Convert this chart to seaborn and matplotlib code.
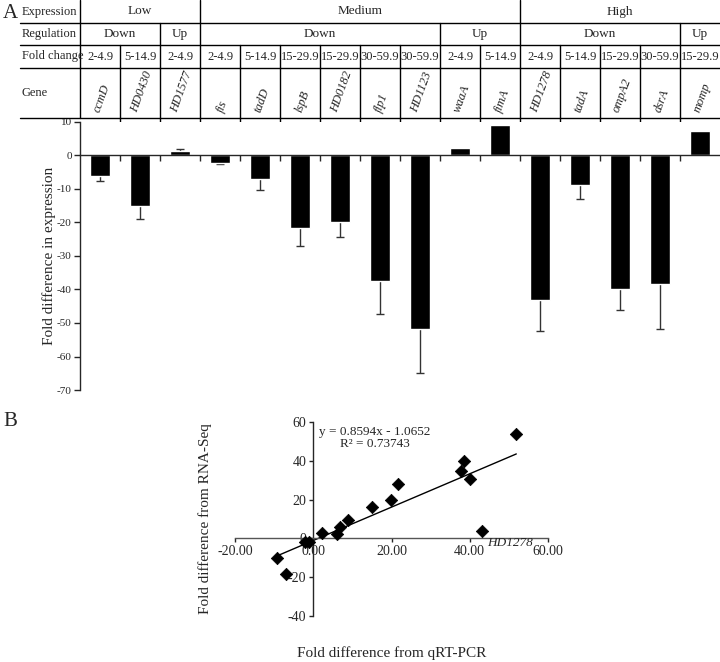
import numpy as np
import matplotlib
matplotlib.use("Agg")
import matplotlib.pyplot as plt
import seaborn as sns

# ---- Panel A data ----
genes = ["ccmD", "HD0430", "HD1577", "fis", "tadD", "lspB", "HD0182", "flp1",
         "HD1123", "waaA", "fimA", "HD1278", "tadA", "ompA2", "dsrA", "momp"]
fold_diff = [-6.0, -15.0, 1.2, -2.2, -7.0, -21.5, -19.8, -37.6,
             -51.7, 2.2, 9.2, -43.0, -8.7, -39.8, -38.5, 7.2]
fold_err = [1.7, 4.0, 0.8, 0.3, 3.2, 5.5, 4.5, 9.7,
            13.2, 0.0, 0.0, 9.3, 4.2, 6.2, 13.2, 0.0]
fold_change = ["2-4.9", "5-14.9", "2-4.9", "2-4.9", "5-14.9", "15-29.9", "15-29.9", "30-59.9",
               "30-59.9", "2-4.9", "5-14.9", "2-4.9", "5-14.9", "15-29.9", "30-59.9", "15-29.9"]
expression_groups = [("Low", 0, 2), ("Medium", 3, 10), ("High", 11, 15)]
regulation_groups = [("Down", 0, 1), ("Up", 2, 2), ("Down", 3, 8), ("Up", 9, 10),
                     ("Down", 11, 14), ("Up", 15, 15)]
row_names = ["Expression", "Regulation", "Fold change", "Gene"]
bar_yticks = [10, 0, -10, -20, -30, -40, -50, -60, -70]

# ---- Panel B data ----
qpcr = [6.0, 14.9, -1.0, 2.2, 6.9, 21.7, 19.8, 37.7,
        51.9, -2.0, -9.2, 43.2, 9.0, 40.0, 38.5, -6.9]
rnaseq = [2.1, 16.1, -1.9, 2.7, 5.8, 28.0, 20.0, 34.9,
          53.7, -1.9, -9.9, 3.8, 9.6, 30.6, 40.0, -18.1]
slope, intercept, r2 = 0.8594, -1.0652, 0.73743
scatter_xticks = [-20, 0, 20, 40, 60]
scatter_yticks = [-40, -20, 0, 20, 40, 60]

sns.set_style("ticks")
plt.rcParams["font.family"] = ["Liberation Serif", "DejaVu Serif"]
plt.rcParams["axes.unicode_minus"] = False
plt.rcParams["axes.linewidth"] = 1.0

W, H = 720, 662
fig = plt.figure(figsize=(W / 100, H / 100), dpi=100)

def px_axes(x0, y0, x1, y1):
    return fig.add_axes([x0 / W, 1 - y1 / H, (x1 - x0) / W, (y1 - y0) / H])

# ---- bar chart ----
ax = px_axes(80, 122, 720, 390)
sns.barplot(x=genes, y=fold_diff, color="black", width=0.5, saturation=1,
            errorbar=None, ax=ax, zorder=2)
pos = np.arange(len(genes))
vals = np.array(fold_diff)
errs = np.array(fold_err)
tips = vals + np.sign(vals) * errs
show = errs > 0
# one-sided error bars: stem from the bar end outwards, cap only at the tip
ax.vlines(pos[show], vals[show], tips[show], color="#333333", lw=1, zorder=1)
ax.plot(pos[show], tips[show], ls="none", marker="_", ms=6, mew=1,
        color="#333333", zorder=1)
ax.set_xlim(-0.5, len(genes) - 0.5)
ax.set_ylim(-70, 10)
ax.set_yticks(bar_yticks)
ax.set_yticklabels([str(t) for t in bar_yticks], fontsize=8)
ax.spines["bottom"].set_position(("data", 0))
ax.spines["top"].set_visible(False)
ax.spines["right"].set_visible(False)
ax.set_xticks(pos[:-1] + 0.5)
ax.set_xticklabels([])
ax.tick_params(axis="x", direction="out", length=4, width=1)
ax.tick_params(axis="y", direction="out", length=4, width=1, pad=2)
ax.set_xlabel("")
ax.set_ylabel("Fold difference in expression", fontsize=11)
ax.yaxis.set_label_coords(-0.038, 0.5)

# ---- table above bars ----
tab = px_axes(0, 0, 720, 122)
tab.set_xlim(-2.5, len(genes) - 0.5)
tab.set_ylim(122, 0)
tab.axis("off")
row_y = [0, 23, 45, 68, 118]
for y in row_y[1:]:
    tab.plot([-2.0, len(genes) - 0.5], [y, y], color="black", lw=1)
tab.plot([-0.5, -0.5], [0, 118], color="black", lw=1)
for name, y0, y1 in zip(row_names, row_y[:-1], row_y[1:]):
    tab.text(-1.95, (y0 + y1) / 2, name, ha="left", va="center", fontsize=9)
for label, a, b in expression_groups:
    tab.text((a + b) / 2, 11.5, label, ha="center", va="center", fontsize=9.5)
    if b < len(genes) - 1:
        tab.plot([b + 0.5, b + 0.5], [0, 23], color="black", lw=1)
for label, a, b in regulation_groups:
    tab.text((a + b) / 2, 34, label, ha="center", va="center", fontsize=9.5)
    if b < len(genes) - 1:
        tab.plot([b + 0.5, b + 0.5], [23, 45], color="black", lw=1)
for i, (fc, g) in enumerate(zip(fold_change, genes)):
    tab.text(i, 56.5, fc, ha="center", va="center", fontsize=9)
    tab.text(i + 0.05, 114, g, ha="center", va="bottom", fontsize=9,
             style="italic", rotation=70)
    if i < len(genes) - 1:
        tab.plot([i + 0.5, i + 0.5], [45, 122], color="black", lw=1)

fig.text(3 / W, 1 - 13 / H, "A", fontsize=15, va="center", ha="left")
fig.text(3 / W, 1 - 421 / H, "B", fontsize=15, va="center", ha="left")

# ---- scatter ----
bx = px_axes(235, 422, 548, 616)
sns.scatterplot(x=qpcr, y=rnaseq, marker="D", s=40, color="black",
                edgecolor="black", ax=bx, zorder=3)
xl = np.array([min(qpcr), max(qpcr)])
bx.plot(xl, slope * xl + intercept, color="black", lw=1)
bx.set_xlim(-20, 60)
bx.set_ylim(-40, 60)
bx.set_xticks(scatter_xticks)
bx.set_xticklabels([f"{t:.2f}" for t in scatter_xticks], fontsize=9.5)
bx.set_yticks(scatter_yticks)
bx.set_yticklabels([str(t) for t in scatter_yticks], fontsize=9.5)
bx.spines["left"].set_position(("data", 0))
bx.spines["bottom"].set_position(("data", 0))
bx.spines["bottom"].set_color("#555555")
bx.spines["top"].set_visible(False)
bx.spines["right"].set_visible(False)
bx.tick_params(axis="both", direction="out", length=3, width=1, pad=2)
bx.set_xlabel("Fold difference from qRT-PCR", fontsize=11)
bx.set_ylabel("Fold difference from RNA-Seq", fontsize=11)
bx.xaxis.set_label_coords(0.5, -0.155)
bx.yaxis.set_label_coords(-0.073, 0.5)
bx.text(0.447, 0.92, f"y = {slope}x - {abs(intercept)}\nR\u00b2 = {r2}",
        transform=bx.transAxes, ha="center", va="center", fontsize=9.5,
        multialignment="center", linespacing=1.0)
bx.text(50.2, -2.6, "HD1278", ha="center", va="center", fontsize=9.5,
        style="italic")

fig.savefig("out.png", dpi=100)
